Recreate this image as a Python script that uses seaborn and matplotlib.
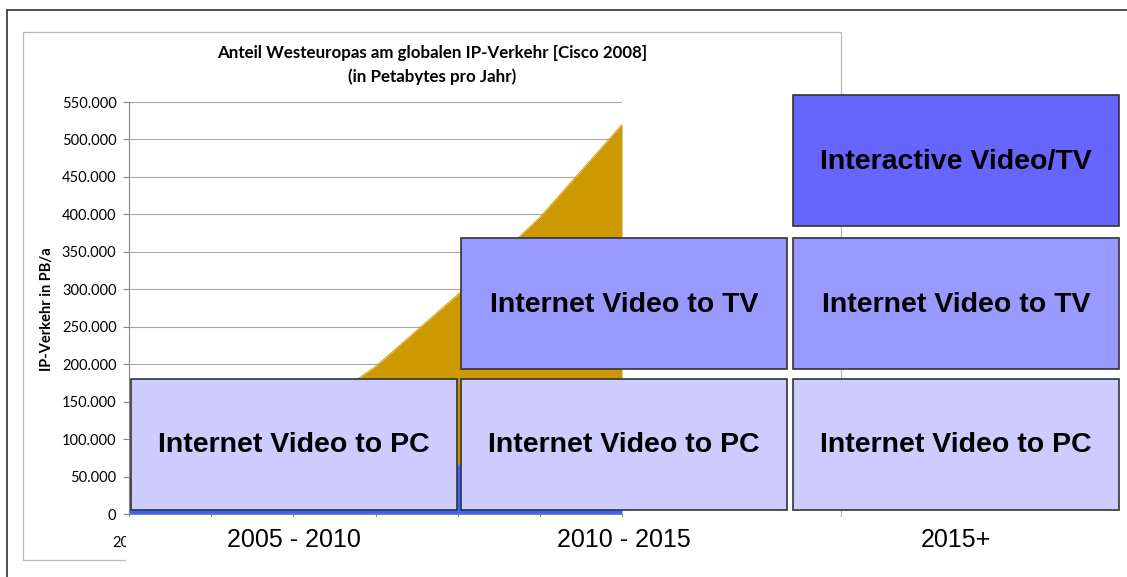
import numpy as np
import pandas as pd
import seaborn as sns
import matplotlib.pyplot as plt
from matplotlib.patches import Rectangle
from matplotlib.ticker import FuncFormatter

# --- data (stacked area, PB per year) ---
years = ['2006', '2007', '2008', '2009', '2010', '2011', '2012']
video_pc = [5000, 10000, 20000, 38000, 65000, 100000, 150000]
other_ip = [44000, 65000, 100000, 159000, 228000, 296000, 370000]
y_ticks = [0, 50000, 100000, 150000, 200000, 250000, 300000,
           350000, 400000, 450000, 500000, 550000]

chart_title = ['Anteil Westeuropas am globalen IP-Verkehr [Cisco 2008]',
               '(in Petabytes pro Jahr)']
y_label = 'IP-Verkehr in PB/a'

# --- slide overlay: periods and boxes (bottom row first) ---
periods = ['2005 - 2010', '2010 - 2015', '2015+']
box_rows = [
    ['Internet Video to PC', 'Internet Video to PC', 'Internet Video to PC'],
    [None, 'Internet Video to TV', 'Internet Video to TV'],
    [None, None, 'Interactive Video/TV'],
]
row_colors = ['#CCCCFF', '#9999FF', '#6666FF']

W, H = 1127, 577
sns.set_theme(style='white')
plt.rcParams['font.family'] = ['Lato', 'DejaVu Sans']

fig = plt.figure(figsize=(W / 100, H / 100), dpi=100)
fig.patch.set_facecolor('white')


def px_box(x0, y0, x1, y1):
    ''' pixel box (top-left origin) -> figure fraction rect '''
    return [x0 / W, (H - y1) / H, (x1 - x0) / W, (y1 - y0) / H]


# the chart itself
ax = fig.add_axes(px_box(129, 102, 622, 514))
ax.set_zorder(1)
df = pd.DataFrame({'year': years, 'pc': video_pc, 'other': other_ip})
df['pos'] = np.arange(len(df))
df['total'] = df['pc'] + df['other']

ax.fill_between(df['pos'], 0, df['pc'], color='#3366FF', lw=0, zorder=2)
ax.fill_between(df['pos'], df['pc'], df['total'], color='#CC9900', lw=0, zorder=2)
sns.lineplot(data=df, x='pos', y='total', color='#CC9900', lw=0.6, ax=ax, zorder=3)
sns.lineplot(data=df, x='pos', y='pc', color='#3366FF', lw=0.6, ax=ax, zorder=3)

ax.set_xlim(0, len(years) - 1)
ax.set_ylim(0, 550000)
ax.set_yticks(y_ticks)
ax.yaxis.set_major_formatter(FuncFormatter(lambda v, p: f'{v:,.0f}'.replace(',', '.')))
ax.set_xticks(df['pos'])
ax.set_xticklabels(years)
ax.set_xlabel('')
ax.set_ylabel('')
ax.yaxis.grid(True, color='#A6A6A6', lw=0.8)
ax.xaxis.grid(False)
ax.set_axisbelow(True)
for s in ['top', 'right']:
    ax.spines[s].set_visible(False)
for s in ['left', 'bottom']:
    ax.spines[s].set_color('#868686')
    ax.spines[s].set_linewidth(0.8)
ax.tick_params(axis='y', length=4, width=0.8, color='#868686', labelsize=10.5,
               pad=5, labelcolor='black', left=True)
ax.tick_params(axis='x', length=3, width=0.8, color='#868686', labelsize=10.5,
               pad=13, labelcolor='black', bottom=True)
# only the first year label peeks out from under the slide overlay
for i, lbl in enumerate(ax.get_xticklabels()):
    if i > 0:
        lbl.set_visible(False)

# overlay in pixel coordinates
ov = fig.add_axes([0, 0, 1, 1])
ov.set_zorder(5)
ov.set_xlim(0, W)
ov.set_ylim(H, 0)
ov.axis('off')
ov.patch.set_alpha(0)

# slide frame and chart frame
ov.plot([7, W], [10, 10], color='#404040', lw=1.3, zorder=1)
ov.plot([7, 7], [10, H], color='#404040', lw=1.3, zorder=1)
ov.add_patch(Rectangle((23, 32), 841 - 23, 560 - 32, fill=False,
                       ec='#B8B8B8', lw=0.9, zorder=1))

ov.text(432, 53, chart_title[0], ha='center', va='center', fontsize=12.2,
        fontweight='bold', color='black', zorder=2)
ov.text(432, 77, chart_title[1], ha='center', va='center', fontsize=12.2,
        fontweight='bold', color='black', zorder=2)
ov.text(47, 309, y_label, ha='center', va='center', rotation=90, fontsize=10.5,
        fontweight='bold', color='black', zorder=2)

# white patches that hide the legend and the year labels
ov.add_patch(Rectangle((622.5, 90), 787 - 622.5, 517 - 90, fc='white', ec='none', zorder=3))
ov.add_patch(Rectangle((126, 517), W - 126, 566 - 517, fc='white', ec='none', zorder=3))

col_left = [131, 461, 793]
box_w = 326
row_top = [379, 238, 95]
box_h = 131

for r, row in enumerate(box_rows):
    for c, label in enumerate(row):
        if label is None:
            continue
        x0, y0 = col_left[c], row_top[r]
        ov.add_patch(Rectangle((x0, y0), box_w, box_h, fc=row_colors[r],
                               ec='#333333', lw=1.2, zorder=4))
        ov.text(x0 + box_w / 2, y0 + box_h / 2 + 1, label, ha='center', va='center',
                fontsize=20.5, fontweight='bold', family='Liberation Sans',
                color='black', zorder=5)

for c, period in enumerate(periods):
    ov.text(col_left[c] + box_w / 2, 540, period, ha='center', va='center',
            fontsize=18, family='Liberation Sans', color='black', zorder=5)

fig.savefig('out.png', dpi=100)
